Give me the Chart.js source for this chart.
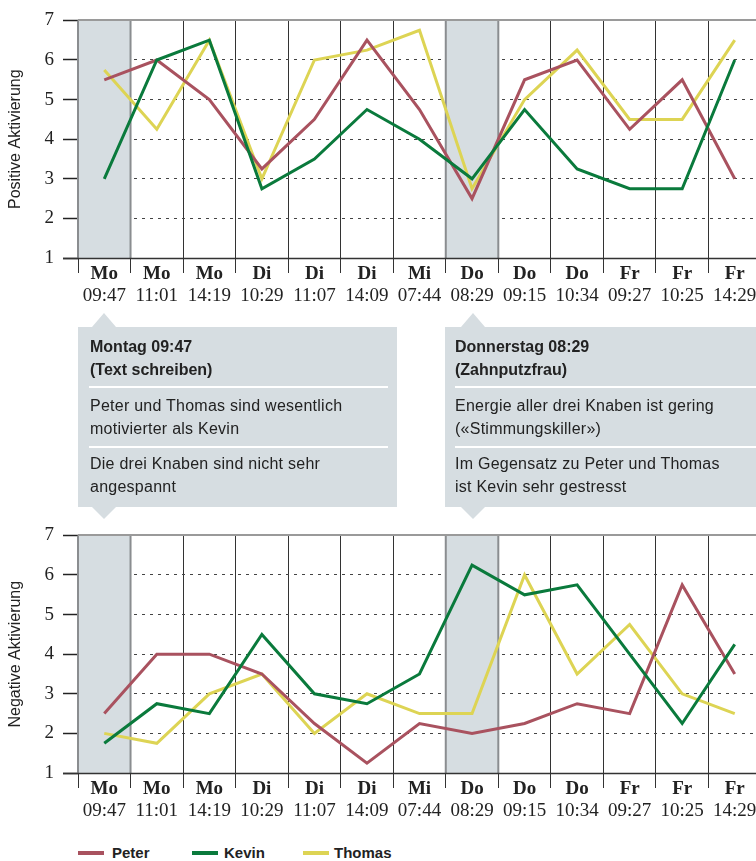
<!DOCTYPE html>
<html>
<head>
<meta charset="utf-8">
<script src="https://cdn.jsdelivr.net/npm/chart.js@4/dist/chart.umd.min.js"></script>
<style>
html,body{margin:0;padding:0;background:#fff;}
body{width:756px;height:861px;position:relative;overflow:hidden;font-family:"Liberation Sans",Arial,sans-serif;color:#222;}
.cw{position:absolute;left:0;width:761px;height:310px;}
canvas{display:block;}
.box{position:absolute;top:327px;height:180px;background:#d6dde1;color:#222;font-size:16px;}
.box .p{position:absolute;line-height:23.3px;white-space:nowrap;letter-spacing:0.25px;}
.box .b{font-weight:bold;letter-spacing:0;}
.box .hr{position:absolute;height:2px;background:#fff;}
.arr{position:absolute;width:0;height:0;border-left:12px solid transparent;border-right:12px solid transparent;}
.up{border-bottom:14px solid #d6dde1;top:313px;}
.down{border-top:12px solid #d6dde1;top:507px;}
.lg{position:absolute;top:843px;height:20px;font-size:15px;font-weight:bold;line-height:20px;}
.lg span.sw{position:absolute;top:8px;width:26px;height:4px;}
.lg span.tx{position:absolute;top:0;white-space:nowrap;}
</style>
</head>
<body>
<div class="cw" style="top:0"><canvas id="cPos" width="761" height="310"></canvas></div>
<div class="cw" style="top:515px"><canvas id="cNeg" width="761" height="310"></canvas></div>

<div class="arr up" style="left:92px"></div>
<div class="box" style="left:78px;width:319px;">
  <div class="p b" style="top:8px;left:12px">Montag 09:47<br>(Text schreiben)</div>
  <div class="hr" style="top:59px;left:11px;width:299px"></div>
  <div class="p" style="top:67px;left:12px">Peter und Thomas sind wesentlich<br>motivierter als Kevin</div>
  <div class="hr" style="top:119px;left:11px;width:299px"></div>
  <div class="p" style="top:125px;left:12px">Die drei Knaben sind nicht sehr<br>angespannt</div>
</div>
<div class="arr down" style="left:92px"></div>

<div class="arr up" style="left:461px"></div>
<div class="box" style="left:445px;width:311px;">
  <div class="p b" style="top:8px;left:10px">Donnerstag 08:29<br>(Zahnputzfrau)</div>
  <div class="hr" style="top:59px;left:10px;width:301px"></div>
  <div class="p" style="top:67px;left:10px">Energie aller drei Knaben ist gering<br>(«Stimmungskiller»)</div>
  <div class="hr" style="top:119px;left:10px;width:301px"></div>
  <div class="p" style="top:125px;left:10px">Im Gegensatz zu Peter und Thomas<br>ist Kevin sehr gestresst</div>
</div>
<div class="arr down" style="left:461px"></div>

<div class="lg" style="left:0;width:756px;">
  <span class="sw" style="left:78px;background:#a9525f"></span><span class="tx" style="left:112px">Peter</span>
  <span class="sw" style="left:192px;background:#0a7a3c"></span><span class="tx" style="left:224px">Kevin</span>
  <span class="sw" style="left:303px;background:#ddd454"></span><span class="tx" style="left:334px">Thomas</span>
</div>

<script>
const days = ['Mo','Mo','Mo','Di','Di','Di','Mi','Do','Do','Do','Fr','Fr','Fr'];
const times = ['09:47','11:01','14:19','10:29','11:07','14:09','07:44','08:29','09:15','10:34','09:27','10:25','14:29'];
const yTicks = [1,2,3,4,5,6,7];
const highlighted = [0,7];

const seriesNames = ['Peter','Kevin','Thomas'];
const seriesColors = ['#a9525f','#0a7a3c','#ddd454'];
const seriesOrder = [1,0,2];

const posPeter  = [5.5, 6, 5, 3.25, 4.5, 6.5, 4.75, 2.5, 5.5, 6, 4.25, 5.5, 3];
const posKevin  = [3, 6, 6.5, 2.75, 3.5, 4.75, 4, 3, 4.75, 3.25, 2.75, 2.75, 6];
const posThomas = [5.75, 4.25, 6.5, 3, 6, 6.25, 6.75, 2.75, 5, 6.25, 4.5, 4.5, 6.5];

const negPeter  = [2.5, 4, 4, 3.5, 2.25, 1.25, 2.25, 2, 2.25, 2.75, 2.5, 5.75, 3.5];
const negKevin  = [1.75, 2.75, 2.5, 4.5, 3, 2.75, 3.5, 6.25, 5.5, 5.75, 4, 2.25, 4.25];
const negThomas = [2, 1.75, 3, 3.5, 2, 3, 2.5, 2.5, 6, 3.5, 4.75, 3, 2.5];

const framePlugin = {
  id: 'frame',
  beforeDatasetsDraw(chart) {
    const ctx = chart.ctx, a = chart.chartArea;
    const x = chart.scales.x, y = chart.scales.y;
    const half = (x.getPixelForValue(1) - x.getPixelForValue(0)) / 2;
    ctx.save();
    highlighted.forEach(i => {
      const cx = x.getPixelForValue(i);
      ctx.fillStyle = '#d6dde1';
      ctx.fillRect(cx - half, a.top, 2 * half, a.bottom - a.top);
      ctx.strokeStyle = '#8a8d90';
      ctx.lineWidth = 2;
      ctx.beginPath();
      ctx.moveTo(cx - half, a.top); ctx.lineTo(cx - half, a.bottom);
      ctx.moveTo(cx + half, a.top); ctx.lineTo(cx + half, a.bottom);
      ctx.stroke();
    });
    const yt = Math.round(y.getPixelForValue(yTicks[yTicks.length - 1]));
    ctx.strokeStyle = '#9a9a9a';
    ctx.lineWidth = 2;
    ctx.beginPath(); ctx.moveTo(a.left, yt); ctx.lineTo(a.right, yt); ctx.stroke();
    const yb = Math.round(y.getPixelForValue(yTicks[0])) + 0.5;
    ctx.strokeStyle = '#333';
    ctx.lineWidth = 1.5;
    ctx.beginPath(); ctx.moveTo(a.left - 15, yb); ctx.lineTo(a.right, yb); ctx.stroke();
    ctx.restore();
  }
};

const serif = '"Liberation Serif", "Times New Roman", serif';
const sans = '"Liberation Sans", Arial, sans-serif';

function makeChart(id, title, values) {
  return new Chart(document.getElementById(id), {
    type: 'line',
    data: {
      labels: days,
      datasets: values.map((v, k) => ({
        label: seriesNames[k],
        data: v,
        borderColor: seriesColors[k],
        backgroundColor: seriesColors[k],
        borderWidth: 3,
        pointRadius: 0,
        tension: 0,
        fill: false,
        order: seriesOrder[k],
        xAxisID: 'x',
        yAxisID: 'y'
      }))
    },
    options: {
      responsive: false,
      animation: false,
      devicePixelRatio: 1,
      layout: { padding: { top: 17, left: 0, right: 0, bottom: 0 } },
      plugins: { legend: { display: false }, tooltip: { enabled: false } },
      scales: {
        x: {
          type: 'category', labels: days, offset: true, position: 'bottom',
          grid: { offset: true, color: '#333', lineWidth: 1, drawTicks: true, tickLength: 15, tickColor: '#333', tickWidth: 1 },
          border: { display: false },
          ticks: { autoSkip: false, maxRotation: 0, minRotation: 0, padding: -10, color: '#222',
                   font: { family: serif, size: 19, weight: 'bold' } },
          afterFit(s) { s.height = 25; }
        },
        x2: {
          type: 'category', labels: times, offset: true, position: 'bottom',
          grid: { display: false, drawTicks: false },
          border: { display: false },
          ticks: { autoSkip: false, maxRotation: 0, minRotation: 0, padding: 2, color: '#222',
                   font: { family: serif, size: 19 } },
          afterFit(s) { s.height = 27; }
        },
        y: {
          min: yTicks[0], max: yTicks[yTicks.length - 1], position: 'left',
          ticks: { stepSize: 1, padding: 9, color: '#222', font: { family: serif, size: 19 } },
          grid: { color: '#444', lineWidth: 1, drawTicks: true, tickLength: 15, tickColor: '#222', tickWidth: 1.5 },
          border: { display: false, dash: [3, 5] },
          title: { display: true, text: title, color: '#222', font: { family: sans, size: 16 }, padding: { top: 6, bottom: 0 } },
          afterFit(s) { s.width = 78; }
        }
      }
    },
    plugins: [framePlugin]
  });
}

makeChart('cPos', 'Positive Aktivierung', [posPeter, posKevin, posThomas]);
makeChart('cNeg', 'Negative Aktivierung', [negPeter, negKevin, negThomas]);
</script>
</body>
</html>
